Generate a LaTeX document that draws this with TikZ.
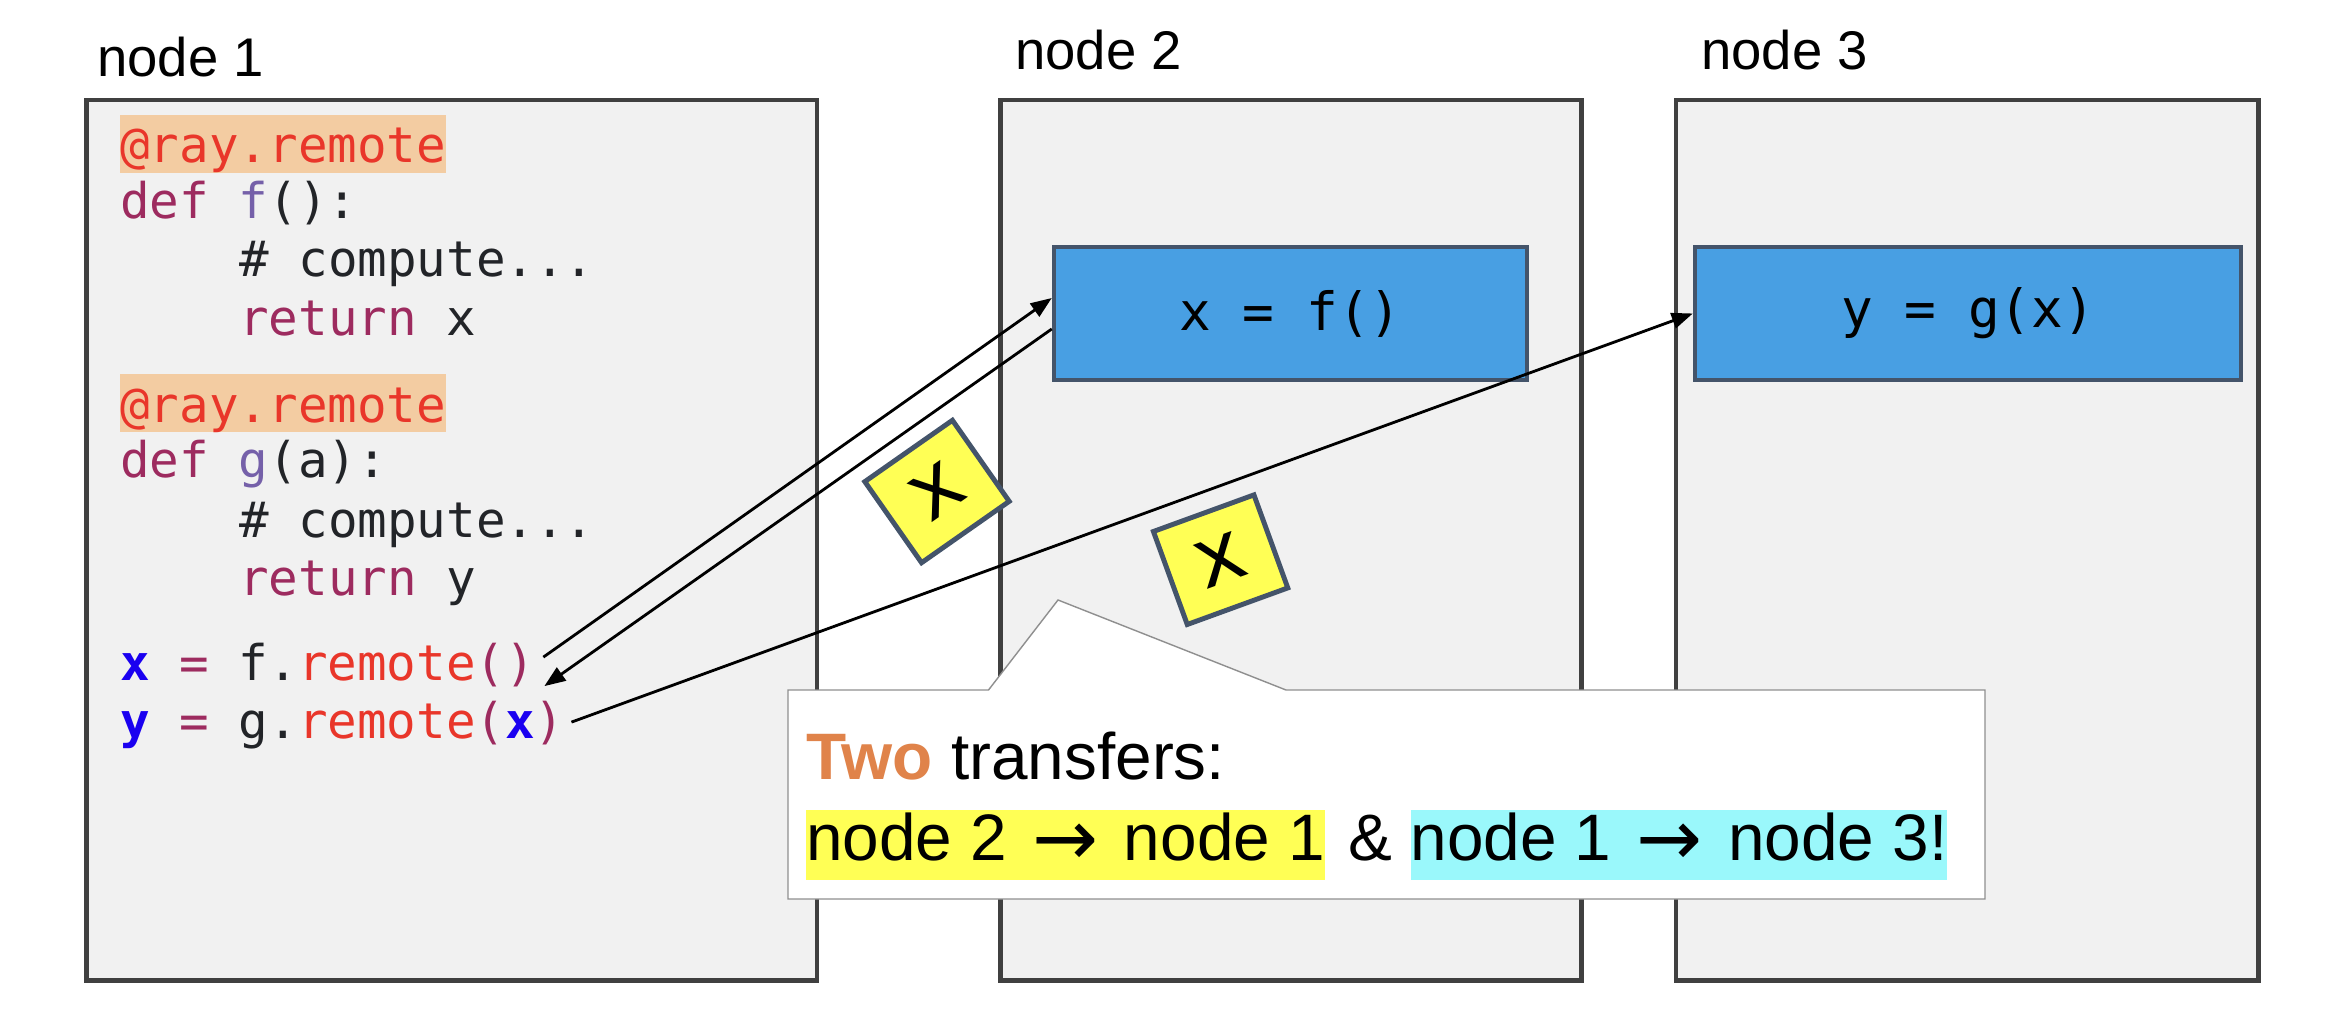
\documentclass[tikz,border=0pt]{standalone}
\usepackage{fontspec}
\setmainfont{Liberation Sans}
\setmonofont{DejaVu Sans Mono}
\newfontfamily\arrowfont{DejaVu Sans}[Scale=1.2]
\usetikzlibrary{arrows.meta, positioning}

\definecolor{boxgray}{HTML}{F1F1F1}
\definecolor{boxline}{HTML}{404040}
\definecolor{taskblue}{HTML}{489FE3}
\definecolor{taskline}{HTML}{44546A}
\definecolor{objyellow}{HTML}{FFFF55}
\definecolor{decobg}{HTML}{F3CCA2}
\definecolor{decored}{HTML}{E9362A}
\definecolor{kwpurple}{HTML}{9D2B5F}
\definecolor{fnviolet}{HTML}{7560A9}
\definecolor{plaintext}{HTML}{222428}
\definecolor{varblue}{HTML}{1A00F0}
\definecolor{twoorange}{HTML}{E0834A}
\definecolor{hlcyan}{HTML}{9AF8FB}
\definecolor{notegray}{HTML}{8F8F8F}

\newcommand\codefont{\ttfamily\fontsize{28}{34}\selectfont}
\newcommand\kwd[1]{\textcolor{kwpurple}{#1}}
\newcommand\fname[1]{\textcolor{fnviolet}{#1}}
\newcommand\rmt[1]{\textcolor{decored}{#1}}
\newcommand\vname[1]{\textcolor{varblue}{\bfseries #1}}
\newcommand\toarrow{\hspace{4pt}\raisebox{-3pt}{\arrowfont →}\hspace{4pt}}

\begin{document}
\begin{tikzpicture}[
  x=0.02cm, y=-0.02cm,
  machine/.style={draw=boxline, fill=boxgray, line width=2.6pt, inner sep=0pt},
  lbl/.style={anchor=base west, inner sep=0pt, font=\fontsize{31}{31}\selectfont},
  code/.style={anchor=base west, inner sep=0pt, font=\codefont, text=plaintext,
               text height=27.2pt, text depth=5.7pt},
  deco/.style={code, fill=decobg, text=decored},
  task/.style={draw=taskline, fill=taskblue, line width=2.6pt, inner sep=0pt,
               minimum height=2.66cm, font=\ttfamily\fontsize{30}{30}\selectfont},
  obj/.style={draw=taskline, fill=objyellow, line width=2.8pt, inner sep=0pt,
              minimum width=2.14cm, minimum height=1.98cm,
              font=\ttfamily\fontsize{48}{48}\selectfont},
  flow/.style={-{Triangle[length=12pt,width=9pt]}, line width=1.6pt},
  note/.style={fill=white, draw=notegray, line width=0.8pt},
  say/.style={anchor=base west, inner sep=0pt, font=\fontsize{37.4}{40}\selectfont},
  hl/.style={say, text height=28.3pt, text depth=11.3pt}
]
\useasboundingbox (0,0) rectangle (2326,1020);

%% machines
\node[machine, minimum width=14.61cm, minimum height=17.61cm] (m1) at (451.75,540.25) {};
\node[machine, minimum width=11.62cm, minimum height=17.61cm] (m2) at (1291,540.25) {};
\node[machine, minimum width=11.65cm, minimum height=17.61cm] (m3) at (1967.25,540.25) {};

\node[lbl] (lab1) at (97,77) {node 1};
\node[lbl] (lab2) at (1015,70) {node 2};
\node[lbl] (lab3) at (1701,70) {node 3};

%% driver code
\node[deco] (deco1) at (120,163) {@ray.remote};
\node[code] (deff)  at (120,219) {\kwd{def} \fname{f}():};
\node[code] (comf)  at (238.8,277) {\# compute...};
\node[code] (retf)  at (238.8,336) {\kwd{return} x};
\node[deco] (deco2) at (120,422) {@ray.remote};
\node[code] (defg)  at (120,478) {\kwd{def} \fname{g}(a):};
\node[code] (comg)  at (238.8,537) {\# compute...};
\node[code] (retg)  at (238.8,595) {\kwd{return} y};
\node[code] (callf) at (120,680) {\vname{x} \kwd{=} f.\rmt{remote}\kwd{()}};
\node[code] (callg) at (120,738) {\vname{y} \kwd{=} g.\rmt{remote}\kwd{(}\vname{x}\kwd{)}};

%% tasks
\node[task, minimum width=9.46cm]  (fbox) at (1290.5,313.5) {x = f()};
\node[task, minimum width=10.92cm] (gbox) at (1968,313.5) {y = g(x)};

%% transfers
\draw[flow] ([shift={(8,-4)}]callf.east) -- ([yshift=0.31cm]fbox.west);
\draw[flow] ([yshift=-0.31cm]fbox.west) -- ([shift={(9,25)}]callf.east);
\draw[flow] ([shift={(6.5,3)}]callg.east) -- (gbox.west);

\node[obj, rotate=35] (obj1) at (937,491.5) {x};
\node[obj, rotate=20] (obj2) at (1220.6,559.7) {x};

%% callout
\draw[note] (788,690) -- (988.5,690) -- (1058,600) -- (1286,690)
  -- (1985,690) -- (1985,899) -- (788,899) -- cycle;
\node[say] (head) at (806,779) {\textcolor{twoorange}{\bfseries Two} transfers:};
\node[hl, fill=objyellow] (hop1) at (806,860) {node 2 \toarrow{} node 1\hspace{4pt}};
\node[say] (amp) at ([xshift=13pt]hop1.base east) {\&};
\node[hl, fill=hlcyan] (hop2) at ([xshift=10pt]amp.base east) {node 1 \toarrow{} node 3!\hspace{2pt}};
\end{tikzpicture}
\end{document}
